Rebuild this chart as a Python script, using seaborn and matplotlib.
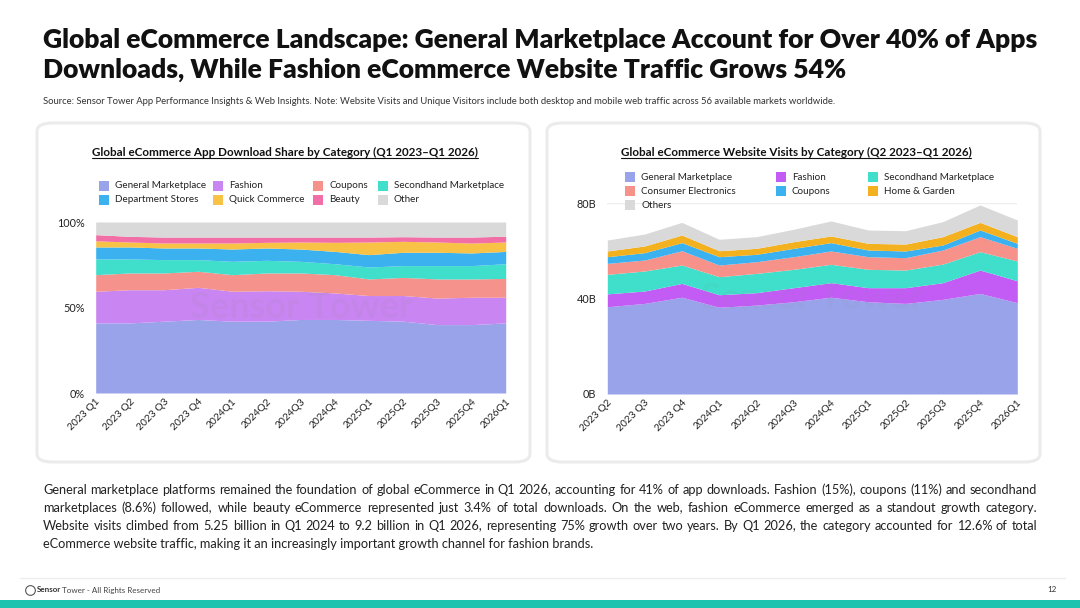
import numpy as np
import matplotlib
matplotlib.use("Agg")
import matplotlib.pyplot as plt
from matplotlib.patches import FancyBboxPatch, Rectangle
from matplotlib.lines import Line2D
import seaborn as sns

# ---- data: app download share (%) ----
app_quarters = ["2023 Q1", "2023 Q2", "2023 Q3", "2023 Q4", "2024Q1", "2024Q2", "2024Q3",
                "2024Q4", "2025Q1", "2025Q2", "2025Q3", "2025Q4", "2026Q1"]
app_general = [41, 41, 42, 43, 42, 42, 43, 43, 42.5, 42, 40, 40, 41]
app_fashion = [18.5, 19.4, 18.4, 18.8, 17.5, 17.8, 16.5, 15.5, 14.5, 15, 15.5, 16, 15]
app_coupons = [9.7, 9.8, 9.8, 9.4, 9.7, 10.4, 10.7, 10.7, 9.7, 10.6, 11.2, 10.7, 11]
app_secondhand = [9.2, 8.2, 7.8, 6.8, 7.8, 7.4, 6.8, 6.4, 7.0, 6.9, 7.8, 7.8, 8.6]
app_department = [7.0, 7.0, 6.8, 6.8, 7.2, 7.2, 7.2, 7.2, 7.2, 7.8, 7.8, 7.4, 7.2]
app_quick = [3.6, 2.9, 2.9, 2.9, 3.5, 3.3, 4.1, 5.3, 7.4, 6.4, 6.0, 5.8, 5.5]
app_beauty = [3.6, 3.3, 3.5, 3.5, 3.5, 3.1, 2.9, 3.1, 2.9, 2.7, 2.9, 3.5, 3.4]
app_other = [7.4, 8.4, 8.8, 8.8, 8.8, 8.8, 8.8, 8.8, 8.8, 8.6, 8.8, 8.8, 8.3]

# ---- data: website visits (billions) ----
web_quarters = ["2023 Q2", "2023 Q3", "2023 Q4", "2024Q1", "2024Q2", "2024Q3", "2024Q4",
                "2025Q1", "2025Q2", "2025Q3", "2025Q4", "2026Q1"]
web_general = [36.6, 38, 40.6, 36.4, 37.3, 38.7, 40.6, 38.7, 38, 39.7, 42.2, 38.3]
web_fashion = [5.4, 5.2, 5.8, 5.25, 5.2, 5.9, 6.1, 5.9, 6.6, 7.0, 9.8, 9.2]
web_secondhand = [8.2, 8.4, 7.7, 7.55, 8.1, 7.7, 7.7, 7.7, 7.4, 7.8, 7.7, 8.3]
web_electronics = [4.6, 4.6, 6.0, 4.9, 4.9, 5.3, 5.6, 5.3, 5.2, 5.9, 6.3, 5.3]
web_coupons = [2.8, 3.1, 3.4, 3.5, 3.1, 3.5, 3.5, 2.8, 2.8, 2.1, 2.8, 2.1]
web_home = [2.4, 2.8, 3.2, 2.5, 2.5, 2.8, 2.8, 2.8, 2.9, 3.5, 3.2, 2.8]
web_others = [4.6, 5.0, 5.3, 4.8, 4.9, 5.2, 6.3, 5.6, 5.6, 6.3, 7.3, 7.0]

sns.set_theme(style="white")
plt.rcParams['font.family'] = ['Lato', 'DejaVu Sans']

fig = plt.figure(figsize=(10.8, 6.08), dpi=100)
W, H = 1080, 608
BODY_SIZE = 9.2


def fx(px):
    return px / W


def fy(py):
    return 1 - py / H


def ink_top(s):
    # top row of drawn pixels for a string placed on a fixed baseline
    sf = plt.figure(figsize=(3, 0.6), dpi=100)
    sf.text(0.02, 0.4, s, fontsize=BODY_SIZE, va='baseline', ha='left', color='black')
    sf.canvas.draw()
    img = np.asarray(sf.canvas.buffer_rgba())[:, :, 0]
    plt.close(sf)
    rows = np.where((img < 160).any(axis=1))[0]
    return rows.min() if len(rows) else 0


# title and source
fig.text(fx(43), fy(40), "Global eCommerce Landscape: General Marketplace Account for Over 40% of Apps",
         fontsize=19.1, fontweight='heavy', va='center', ha='left', color='#111111')
fig.text(fx(43), fy(70), "Downloads, While Fashion eCommerce Website Traffic Grows 54%",
         fontsize=19.1, fontweight='heavy', va='center', ha='left', color='#111111')
fig.text(fx(43), fy(102), "Source: Sensor Tower App Performance Insights & Web Insights. Note: Website Visits and "
         "Unique Visitors include both desktop and mobile web traffic across 56 available markets worldwide.",
         fontsize=6.8, va='center', ha='left', color='#333333')

# panels
for x0 in (37, 547):
    panel = FancyBboxPatch((fx(x0), fy(462)), fx(493), 339 / H,
                           boxstyle="round,pad=0,rounding_size=0.014",
                           transform=fig.transFigure, facecolor='white',
                           edgecolor='#ebebeb', linewidth=2.2, zorder=-2)
    fig.patches.append(panel)

# left chart
app_colors = ['#99a3ea', '#c985f1', '#f4928b', '#3fdfcb', '#3bb1f0', '#f8c246', '#f26ea6', '#d9d9d9']
app_series = [app_general, app_fashion, app_coupons, app_secondhand,
              app_department, app_quick, app_beauty, app_other]
app_names = ["General Marketplace", "Fashion", "Coupons", "Secondhand Marketplace",
             "Department Stores", "Quick Commerce", "Beauty", "Other"]

ax1 = fig.add_axes([fx(95.7), fy(393), fx(410), 171 / H])
x1 = np.arange(len(app_quarters))
ax1.stackplot(x1, *app_series, colors=app_colors, linewidth=0)
ax1.set_xlim(0, len(app_quarters) - 1)
ax1.set_ylim(0, 100)
ax1.set_yticks([0, 50, 100])
ax1.set_yticklabels(["0%", "50%", "100%"])
ax1.set_xticks(x1)
ax1.set_xticklabels(app_quarters, rotation=45, ha='right', rotation_mode='anchor')

# right chart
web_colors = ['#99a3ea', '#c35cf5', '#3fdfcb', '#f7928a', '#3bb1f0', '#f3b11f', '#d9d9d9']
web_series = [web_general, web_fashion, web_secondhand, web_electronics,
              web_coupons, web_home, web_others]
web_names = ["General Marketplace", "Fashion", "Secondhand Marketplace", "Consumer Electronics",
             "Coupons", "Home & Garden", "Others"]

ax2 = fig.add_axes([fx(607.3), fy(394), fx(410), 190.7 / H])
x2 = np.arange(len(web_quarters))
ax2.stackplot(x2, *web_series, colors=web_colors, linewidth=0, zorder=2)
ax2.set_xlim(0, len(web_quarters) - 1)
ax2.set_ylim(0, 80)
ax2.set_yticks([0, 40, 80])
ax2.set_yticklabels(["0B", "40B", "80B"])
ax2.set_xticks(x2)
ax2.set_xticklabels(web_quarters, rotation=45, ha='right', rotation_mode='anchor')
ax2.axhline(80, color='#eeeeee', linewidth=1, zorder=1)

for ax in (ax1, ax2):
    ax.set_facecolor('none')
    for s in ax.spines.values():
        s.set_visible(False)
    ax.tick_params(axis='both', length=0, labelsize=7.8, colors='#222222')
    ax.tick_params(axis='x', pad=3, labelsize=7.4)
    ax.tick_params(axis='y', pad=8)
    ax.text(0.5, 0.5, "Sensor Tower", transform=ax.transAxes, ha='center', va='center',
            fontsize=26, fontweight='bold', color='#888888', alpha=0.07, zorder=5)


# legends placed by hand to match the layout
def legend_item(x_px, y_px, color, label):
    fig.patches.append(Rectangle((fx(x_px), fy(y_px + 5)), fx(10), 10 / H,
                                 transform=fig.transFigure, facecolor=color, edgecolor='none'))
    fig.text(fx(x_px + 16), fy(y_px), label, fontsize=7.1, ha='left', va='center', color='#222222')


app_cols = [99, 213, 313, 378]
for i, name in enumerate(app_names):
    legend_item(app_cols[i % 4], 186 + 14 * (i // 4), app_colors[i], name)

web_slots = [(625, 177), (776, 177), (868, 177), (625, 191), (776, 191), (868, 191), (625, 205)]
for slot, color, name in zip(web_slots, web_colors, web_names):
    legend_item(slot[0], slot[1], color, name)

# panel titles with underline
t1 = fig.text(fx(285), fy(152), "Global eCommerce App Download Share by Category (Q1 2023\u2013Q1 2026)",
              fontsize=8.4, fontweight='bold', ha='center', va='center', color='#111111')
t2 = fig.text(fx(796), fy(152), "Global eCommerce Website Visits by Category (Q2 2023\u2013Q1 2026)",
              fontsize=8.4, fontweight='bold', ha='center', va='center', color='#111111')
fig.canvas.draw()
renderer = fig.canvas.get_renderer()
inv = fig.transFigure.inverted()
for t in (t1, t2):
    bb = t.get_window_extent(renderer).transformed(inv)
    fig.add_artist(Line2D([bb.x0, bb.x1], [bb.y0 - 0.001, bb.y0 - 0.001],
                          transform=fig.transFigure, color='#111111', linewidth=0.8))

# body paragraph, justified like the slide
para = [
    "General marketplace platforms remained the foundation of global eCommerce in Q1 2026, accounting for 41% of app downloads. Fashion (15%), coupons (11%) and secondhand",
    "marketplaces (8.6%) followed, while beauty eCommerce represented just 3.4% of total downloads. On the web, fashion eCommerce emerged as a standout growth category.",
    "Website visits climbed from 5.25 billion in Q1 2024 to 9.2 billion in Q1 2026, representing 75% growth over two years. By Q1 2026, the category accounted for 12.6% of total",
    "eCommerce website traffic, making it an increasingly important growth channel for fashion brands.",
]
left_px, right_px = 43, 1037
for i, line in enumerate(para):
    base_y = 494 + 18 * i
    if i == len(para) - 1:
        fig.text(fx(left_px), fy(base_y), line, fontsize=BODY_SIZE, ha='left', va='baseline',
                 color='#222222')
        continue
    words = line.split(" ")
    texts = [fig.text(0, fy(base_y), w, fontsize=BODY_SIZE, ha='left', va='baseline',
                      color='#222222') for w in words]
    widths = [t.get_window_extent(renderer).width for t in texts]
    gap = (right_px - left_px - sum(widths)) / (len(words) - 1)
    x = left_px
    for t, w, wd in zip(texts, words, widths):
        t.set_x(fx(x))
        x += wd + gap
        core = w.rstrip(",")
        if core != w and core:
            shift = ink_top(w) - ink_top(core)
            if shift:
                t.set_y(fy(base_y) + shift / H)

# footer
fig.add_artist(Line2D([fx(20), fx(1065)], [fy(578), fy(578)], transform=fig.transFigure,
                      color='#eeeeee', linewidth=1))
fig.add_artist(Line2D([fx(30)], [fy(590)], transform=fig.transFigure, marker='o', markersize=7,
                      markerfacecolor='none', markeredgecolor='#555555', markeredgewidth=0.8))
s1 = fig.text(fx(37), fy(590), "Sensor", fontsize=5.8, fontweight='bold', ha='left', va='center',
              color='#333333')
sw = s1.get_window_extent(renderer).width
fig.text(fx(37 + sw + 0.5), fy(590), "Tower - All Rights Reserved", fontsize=5.8, ha='left',
         va='center', color='#444444')
fig.text(fx(1057), fy(590), "12", fontsize=5.8, ha='right', va='center', color='#333333')
fig.patches.append(Rectangle((0, 0), 1, 8 / H, transform=fig.transFigure,
                             facecolor='#1dc3ae', edgecolor='none'))

fig.savefig("out.png", dpi=100)
